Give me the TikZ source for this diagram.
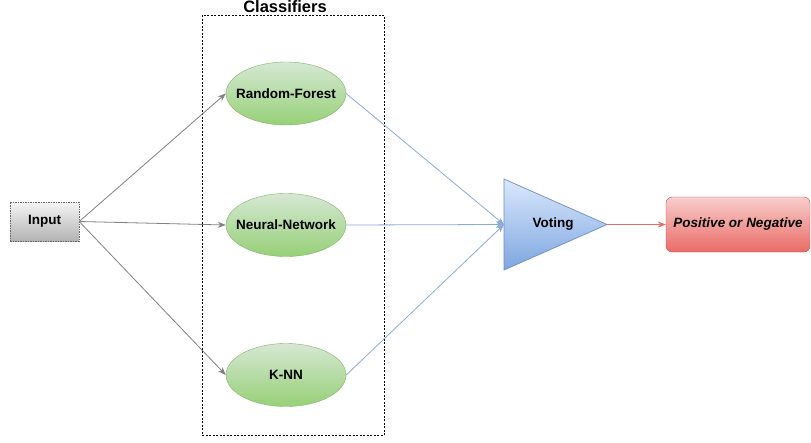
\documentclass[tikz,border=0pt]{standalone}
\usepackage{fontspec}
\setmainfont{Liberation Sans}
\usetikzlibrary{shapes.geometric,arrows.meta}
\definecolor{grnB}{HTML}{82B366}
\definecolor{grnT}{HTML}{D5E8D4}
\definecolor{grnD}{HTML}{97D077}
\definecolor{bluB}{HTML}{6C8EBF}
\definecolor{bluT}{HTML}{DAE8FC}
\definecolor{bluD}{HTML}{7EA6E0}
\definecolor{redB}{HTML}{B85450}
\definecolor{redT}{HTML}{F8CECC}
\definecolor{redD}{HTML}{EA6B66}
\definecolor{grayB}{HTML}{666666}
\definecolor{arrG}{HTML}{808080}
\definecolor{lineB}{HTML}{8DA9D8}
\newcommand{\zw}[1]{\makebox[0pt]{#1}}
\tikzset{
  lbl/.style={font=\fontsize{13.5}{16}\selectfont\bfseries, text=black},
  clsnode/.style={ellipse, draw=grnB, top color=grnT, bottom color=grnD, minimum width=120pt, minimum height=63pt, inner sep=0pt, lbl},
  inbox/.style={rectangle, draw=grayB, dash pattern=on 1.5pt off 1pt, top color=white!96!black, bottom color=white!70!black, minimum width=69pt, minimum height=39pt, inner sep=0pt, lbl},
  outbox/.style={rectangle, rounded corners=6pt, draw=redB, top color=redT, bottom color=redD, minimum width=144pt, minimum height=55pt, inner sep=0pt, lbl, font=\fontsize{13.5}{16}\selectfont\bfseries\itshape},
  grayarr/.style={draw=arrG, line width=0.8pt, -{Stealth[length=8pt,width=6pt]}},
  bluearr/.style={draw=lineB, line width=0.8pt, -{Stealth[length=8pt,width=6pt]}},
  redarr/.style={draw=redD, line width=0.8pt, -{Stealth[length=8pt,width=6pt]}},
  groupbox/.style={draw=black, line width=0.7pt, dash pattern=on 2pt off 1.5pt},
}
\begin{document}
\begin{tikzpicture}[x=1pt,y=-1pt]
\useasboundingbox (0,0) rectangle (811,442);
% group box
\draw[groupbox] (202,15) rectangle (384,435);
\node[lbl, font=\fontsize{16.5}{18}\selectfont\bfseries] (title) at (285,7) {Classifiers};
% nodes
\node[inbox] (input) at (44.5,221.5) {Input};
\node[clsnode] (rf) at (286,93.5) {\zw{Random-Forest}};
\node[clsnode] (nn) at (286,225) {\zw{Neural-Network}};
\node[clsnode] (knn) at (286,375) {\zw{K-NN}};
% voting triangle
\coordinate (vtop) at (504,179);
\coordinate (vbot) at (504,270);
\coordinate (vtip) at (607,224.5);
\coordinate (vin) at (504,224.5);
\shade[top color=bluT, bottom color=bluD, draw=bluB, line width=0.7pt, line join=miter] (vtop) -- (vtip) -- (vbot) -- cycle;
\node[lbl] (vote) at (553,224.5) {Voting};
\node[outbox] (out) at (738,224.5) {Positive or Negative};
% connectors
\draw[grayarr] (input.east) -- (rf.west);
\draw[grayarr] (input.east) -- (nn.west);
\draw[grayarr] (input.east) -- (knn.west);
\draw[bluearr] (rf.east) -- (vin);
\draw[bluearr] (nn.east) -- (vin);
\draw[bluearr] (knn.east) -- (vin);
\draw[redarr] (vtip) -- (out.west);
\end{tikzpicture}
\end{document}
